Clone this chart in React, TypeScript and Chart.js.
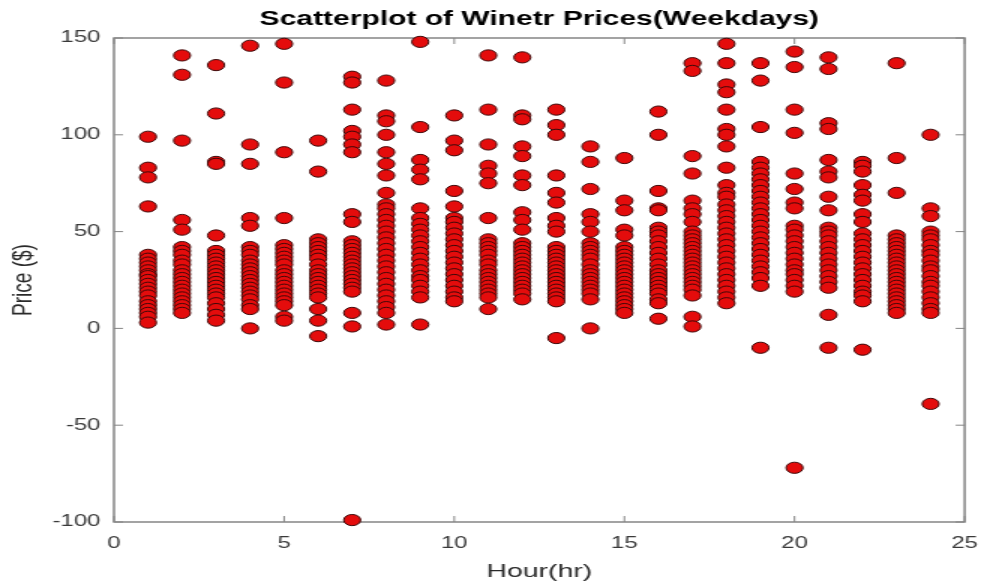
import { useEffect, useRef } from 'react';
import { Chart, registerables } from 'chart.js';

Chart.register(...registerables);

// ---- data ----
const hours = [1, 2, 3, 4, 5, 6, 7, 8, 9, 10, 11, 12, 13, 14, 15, 16, 17, 18, 19, 20, 21, 22, 23, 24];
const xTickValues = [0, 5, 10, 15, 20, 25];
const yTickValues = [-100, -50, 0, 50, 100, 150];

const prices01 = [99, 83, 78, 63, 38, 36, 34, 32, 30, 28, 27, 25, 23, 21, 19, 17, 14, 12, 10, 8, 6, 3];
const prices02 = [141, 131, 97, 56, 51, 42, 40, 38, 35, 33, 30, 28, 26, 24, 22, 20, 18, 16, 14, 12, 10, 8];
const prices03 = [136, 111, 86, 85, 48, 40, 38, 36, 34, 32, 30, 28, 26, 24, 22, 20, 18, 16, 13, 10, 7, 4];
const prices04 = [146, 95, 85, 57, 53, 42, 40, 38, 35, 33, 31, 29, 27, 25, 23, 21, 19, 17, 15, 12, 10, 0];
const prices05 = [147, 127, 91, 57, 43, 41, 39, 37, 35, 33, 30, 28, 26, 24, 22, 20, 18, 16, 14, 12, 6, 4];
const prices06 = [97, 81, 46, 44, 42, 40, 38, 36, 33, 30, 28, 26, 24, 22, 20, 18, 16, 10, 4, -4];
const prices07 = [130, 127, 113, 102, 99, 95, 91, 59, 55, 45, 43, 41, 39, 37, 35, 33, 31, 29, 27, 25, 23, 21, 19, 8, 1, -99];
const prices08 = [128, 110, 107, 100, 91, 85, 79, 70, 64, 62, 59, 56, 53, 50, 47, 44, 41, 38, 35, 32, 29, 26, 23, 20, 17, 14, 11, 8, 2];
const prices09 = [148, 104, 87, 82, 77, 62, 57, 54, 51, 48, 45, 42, 39, 36, 33, 30, 27, 25, 22, 19, 16, 2];
const prices10 = [110, 97, 92, 71, 63, 57, 55, 52, 49, 46, 43, 40, 37, 34, 31, 28, 25, 22, 19, 16, 14];
const prices11 = [141, 113, 95, 84, 80, 75, 57, 46, 44, 42, 40, 38, 35, 33, 30, 28, 26, 24, 22, 20, 18, 16, 10];
const prices12 = [140, 110, 108, 94, 89, 79, 74, 60, 56, 51, 44, 42, 40, 38, 36, 34, 32, 30, 28, 26, 24, 22, 20, 18, 15];
const prices13 = [113, 105, 100, 79, 70, 65, 57, 53, 50, 42, 40, 38, 36, 34, 32, 30, 28, 26, 24, 22, 20, 18, 16, 14, -5];
const prices14 = [94, 86, 72, 59, 55, 50, 44, 42, 40, 38, 36, 33, 30, 28, 26, 24, 22, 20, 18, 15, 0];
const prices15 = [88, 66, 61, 51, 48, 42, 40, 38, 36, 34, 32, 30, 28, 26, 24, 22, 20, 18, 16, 14, 12, 10, 8];
const prices16 = [112, 100, 71, 62, 61, 52, 50, 48, 45, 42, 39, 36, 33, 30, 28, 26, 24, 22, 20, 18, 15, 13, 5];
const prices17 = [137, 133, 89, 80, 66, 62, 59, 55, 50, 48, 46, 44, 42, 40, 38, 36, 34, 32, 30, 28, 26, 24, 22, 20, 17, 6, 1];
const prices18 = [147, 137, 126, 122, 113, 103, 100, 94, 83, 74, 70, 68, 64, 61, 58, 55, 52, 49, 46, 43, 40, 37, 34, 31, 28, 25, 22, 19, 16, 13];
const prices19 = [137, 128, 104, 86, 83, 80, 77, 74, 71, 68, 65, 62, 59, 56, 53, 50, 47, 44, 41, 38, 35, 32, 29, 26, 22, -10];
const prices20 = [143, 135, 113, 101, 80, 72, 65, 62, 53, 51, 48, 45, 42, 39, 36, 33, 30, 28, 25, 22, 19, -72];
const prices21 = [140, 134, 106, 103, 87, 81, 78, 68, 61, 52, 50, 48, 45, 42, 39, 36, 33, 30, 27, 24, 21, 7, -10];
const prices22 = [86, 84, 81, 74, 69, 66, 59, 55, 49, 46, 43, 40, 37, 34, 31, 28, 25, 22, 19, 17, 14, -11];
const prices23 = [137, 88, 70, 48, 46, 44, 42, 40, 38, 36, 34, 32, 30, 28, 26, 24, 22, 20, 18, 16, 14, 12, 10, 8];
const prices24 = [100, 62, 58, 50, 48, 46, 43, 40, 38, 35, 32, 30, 27, 24, 22, 19, 16, 13, 10, 8, -39];

const pricesByHour = [
  prices01, prices02, prices03, prices04, prices05, prices06, prices07, prices08,
  prices09, prices10, prices11, prices12, prices13, prices14, prices15, prices16,
  prices17, prices18, prices19, prices20, prices21, prices22, prices23, prices24,
];

const titleText = 'Scatterplot of Winetr Prices(Weekdays)';
const xTitle = 'Hour(hr)';
const yTitle = 'Price ($)';

// The reference image is stretched horizontally; draw on a narrower canvas and stretch it with CSS.
const OUT_W = 996;
const OUT_H = 585;
const STRETCH = 1.5;
const CANVAS_W = Math.round(OUT_W / STRETCH);
const FONT = '"Liberation Sans", Arial, Helvetica, sans-serif';

const framePlugin = {
  id: 'matlabFrame',
  beforeDatasetsDraw(chart: any) {
    const { ctx, chartArea, scales } = chart;
    const { left, right, top, bottom } = chartArea;
    const x = scales.x;
    const y = scales.y;
    ctx.save();
    ctx.strokeStyle = '#858585';
    ctx.lineWidth = 1.5;
    ctx.strokeRect(left, top, right - left, bottom - top);
    ctx.lineWidth = 1;
    ctx.beginPath();
    for (const v of xTickValues) {
      const px = x.getPixelForValue(v);
      ctx.moveTo(px, bottom);
      ctx.lineTo(px, bottom - 6);
      ctx.moveTo(px, top);
      ctx.lineTo(px, top + 6);
    }
    for (const v of yTickValues) {
      const py = y.getPixelForValue(v);
      ctx.moveTo(left, py);
      ctx.lineTo(left + 6, py);
      ctx.moveTo(right, py);
      ctx.lineTo(right - 6, py);
    }
    ctx.stroke();
    ctx.restore();
  },
};

export default function App() {
  const canvasRef = useRef<HTMLCanvasElement | null>(null);

  useEffect(() => {
    const canvas = canvasRef.current;
    if (!canvas) return;
    const points = hours.flatMap((h, i) => pricesByHour[i].map((p) => ({ x: h, y: p })));
    const chart = new Chart(canvas, {
      type: 'scatter',
      data: {
        datasets: [
          {
            data: points,
            pointStyle: 'circle',
            pointRadius: 5.6,
            pointBackgroundColor: 'rgb(228, 12, 12)',
            pointBorderColor: 'rgb(60, 8, 8)',
            pointBorderWidth: 1,
            clip: false,
          } as any,
        ],
      },
      options: {
        responsive: false,
        maintainAspectRatio: false,
        animation: false,
        devicePixelRatio: 1,
        layout: { padding: { left: 0, right: CANVAS_W - 979 / STRETCH, top: 0, bottom: 0 } },
        plugins: {
          legend: { display: false },
          tooltip: { enabled: false },
          title: {
            display: true,
            text: titleText,
            fullSize: false,
            color: '#000',
            font: { family: FONT, size: 20, weight: 'bold' },
            padding: { top: 7, bottom: 7 },
          },
        },
        scales: {
          x: {
            type: 'linear',
            min: 0,
            max: 25,
            afterFit: (s: any) => {
              s.height = OUT_H - 522;
            },
            afterBuildTicks: (s: any) => {
              s.ticks = xTickValues.map((v) => ({ value: v }));
            },
            ticks: { color: '#3a3a3a', padding: 12, font: { family: FONT, size: 16 } },
            grid: { display: false, drawTicks: false },
            border: { display: false },
            title: {
              display: true,
              text: xTitle,
              color: '#2a2a2a',
              font: { family: FONT, size: 19 },
              padding: { top: 0, bottom: 2 },
            },
          },
          y: {
            type: 'linear',
            min: -100,
            max: 150,
            afterFit: (s: any) => {
              s.width = 114 / STRETCH;
            },
            afterBuildTicks: (s: any) => {
              s.ticks = yTickValues.map((v) => ({ value: v }));
            },
            ticks: { color: '#3a3a3a', padding: 9, font: { family: FONT, size: 16 } },
            grid: { display: false, drawTicks: false },
            border: { display: false },
            title: {
              display: true,
              text: yTitle,
              color: '#2a2a2a',
              font: { family: FONT, size: 19 },
              padding: { top: 4, bottom: 0 },
            },
          },
        },
      } as any,
      plugins: [framePlugin],
    });
    return () => chart.destroy();
  }, []);

  return (
    <div style={{ position: 'absolute', left: 0, top: 0, width: OUT_W, height: OUT_H, background: '#fff' }}>
      <canvas
        ref={canvasRef}
        width={CANVAS_W}
        height={OUT_H}
        style={{ width: `${OUT_W}px`, height: `${OUT_H}px`, display: 'block' }}
      />
    </div>
  );
}
